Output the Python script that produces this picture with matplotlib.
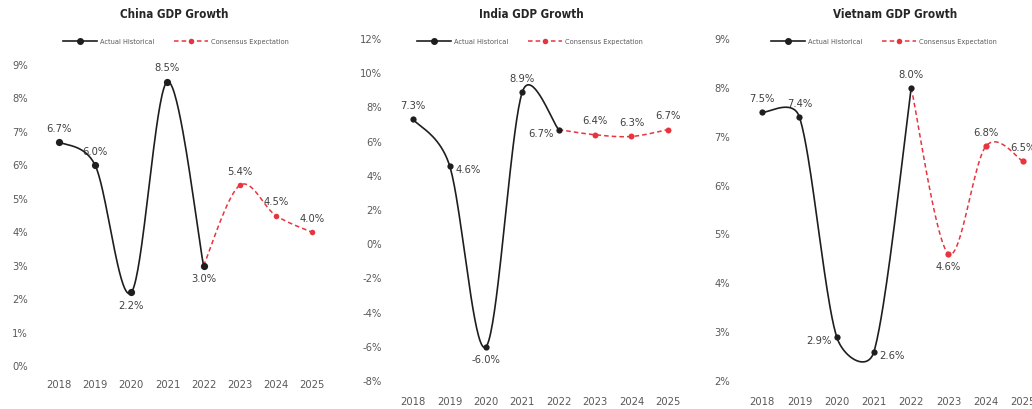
import matplotlib
matplotlib.use('Agg')

import numpy as np
import matplotlib.pyplot as plt
from matplotlib.lines import Line2D

years = [2018, 2019, 2020, 2021, 2022, 2023, 2024, 2025]
hist_years = [2018, 2019, 2020, 2021, 2022]
fcst_years = [2022, 2023, 2024, 2025]

china_hist = [6.7, 6.0, 2.2, 8.5, 3.0]
china_fcst = [3.0, 5.4, 4.5, 4.0]
india_hist = [7.3, 4.6, -6.0, 8.9, 6.7]
india_fcst = [6.7, 6.4, 6.3, 6.7]
vietnam_hist = [7.5, 7.4, 2.9, 2.6, 8.0]
vietnam_fcst = [8.0, 4.6, 6.8, 6.5]

# label placement for each point (hist then forecast without the shared 2022)
china_pos = ['above', 'above', 'below', 'above', 'below', 'above', 'above', 'above']
india_pos = ['above', 'right', 'below', 'above', 'left', 'above', 'above', 'above']
vietnam_pos = ['above', 'above', 'left', 'right', 'above', 'below', 'above', 'above']

BLACK = '#1e1e1e'
RED = '#e8343f'
GREY = '#595959'

# condensed face is the closest thing to the original narrow font
plt.rcParams['font.family'] = ['DejaVu Sans']
plt.rcParams['font.stretch'] = 'condensed'

W, H = 1032, 409
fig = plt.figure(figsize=(W / 100, H / 100), dpi=100)


def add_ax(left, right, top, bottom):
    return fig.add_axes([left / W, 1 - bottom / H, (right - left) / W, (bottom - top) / H])


def smooth(ax, xs, ys, cap=0.55, n=40):
    """excel-like bezier smoothing, done in pixel space"""
    P = ax.transData.transform(np.column_stack([xs, ys]))
    out = []
    for i in range(len(P) - 1):
        p0 = P[i - 1] if i > 0 else P[i]
        p1 = P[i]
        p2 = P[i + 1]
        p3 = P[i + 2] if i + 2 < len(P) else P[i + 1]
        seg = np.hypot(*(p2 - p1))
        t1 = (p2 - p0) / 6.0
        t2 = (p3 - p1) / 6.0
        for t in (t1, t2):
            ln = np.hypot(*t)
            if ln > cap * seg:
                t *= cap * seg / ln
        b1 = p1 + t1
        b2 = p2 - t2
        s = np.linspace(0, 1, n)[:, None]
        pts = ((1 - s) ** 3) * p1 + 3 * s * (1 - s) ** 2 * b1 + 3 * s ** 2 * (1 - s) * b2 + s ** 3 * p2
        out.append(pts if i == 0 else pts[1:])
    out = np.vstack(out)
    data = ax.transData.inverted().transform(out)
    return data[:, 0], data[:, 1]


def panel(ax, title, tx, hist, fcst, pos, ylim, ystep, lab_cx, ms_h, ms_f, xpad):
    ax.set_xlim(2017.5, 2025.5)
    ax.set_ylim(*ylim)
    for sp in ax.spines.values():
        sp.set_visible(False)
    ax.set_xticks(years)
    ax.set_xticklabels([str(y) for y in years])
    yt = np.arange(ylim[0], ylim[1] + 0.01, ystep)
    ax.set_yticks(yt)
    ax.set_yticklabels(['%d%%' % v for v in yt])
    ax.tick_params(length=0, labelsize=8, colors=GREY)
    ax.tick_params(axis='y', pad=9.5)
    ax.tick_params(axis='x', pad=xpad)

    hx, hy = smooth(ax, hist_years, hist)
    fx, fy = smooth(ax, fcst_years, fcst)
    ax.plot(fx, fy, color=RED, lw=1.1, ls=(0, (3, 2)), clip_on=False, zorder=2)
    ax.plot(fcst_years[1:], fcst[1:], 'o', color=RED, ms=ms_f, mec='none', clip_on=False, zorder=3)
    ax.plot(hx, hy, color=BLACK, lw=1.2, clip_on=False, zorder=4)
    ax.plot(hist_years, hist, 'o', color=BLACK, ms=ms_h, mec='none', clip_on=False, zorder=5)

    xs = hist_years + fcst_years[1:]
    vs = hist + fcst[1:]
    for x, v, p in zip(xs, vs, pos):
        off = {'above': (0, 6, 'center', 'bottom'), 'below': (0, -6, 'center', 'top'),
               'left': (-4, -3, 'right', 'center'), 'right': (4, -3, 'left', 'center')}[p]
        ax.annotate('%.1f%%' % v, (x, v), xytext=off[:2], textcoords='offset points',
                    ha=off[2], va=off[3], fontsize=8, color='#404040', annotation_clip=False)

    fig.text(tx / W, 1 - 14 / H, title, ha='center', va='center', fontsize=8.4,
             fontweight='bold', color='#262626')

    handles = [Line2D([], [], color=BLACK, lw=1.2, marker='o', ms=4, markevery=[1]),
               Line2D([], [], color=RED, lw=1.1, ls=(0, (3, 2)), marker='o', ms=4, mec='none', markevery=[1])]
    for h in handles:
        h.set_xdata([0, 0.5, 1])
    ax.legend(handles, ['Actual Historical', 'Consensus Expectation'], loc='center',
              bbox_to_anchor=(lab_cx / W, 1 - 42 / H), bbox_transform=fig.transFigure,
              ncol=2, frameon=False, fontsize=5.3, labelcolor=GREY, handlelength=4.6,
              handletextpad=0.5, columnspacing=2.6)


ax1 = add_ax(41, 330, 65, 366)
panel(ax1, 'China GDP Growth', 174, china_hist, china_fcst, china_pos, (0, 9), 1, 176, 5.2, 4, 10)

ax2 = add_ax(395, 686, 39, 381)
panel(ax2, 'India GDP Growth', 531, india_hist, india_fcst, india_pos, (-8, 12), 2, 530, 4.5, 4.3, 11.5)

ax3 = add_ax(743.6, 1041.6, 39, 381)
panel(ax3, 'Vietnam GDP Growth', 895, vietnam_hist, vietnam_fcst, vietnam_pos, (2, 9), 1, 884, 4.5, 4.5, 11.5)

fig.savefig('out.png', dpi=100)
